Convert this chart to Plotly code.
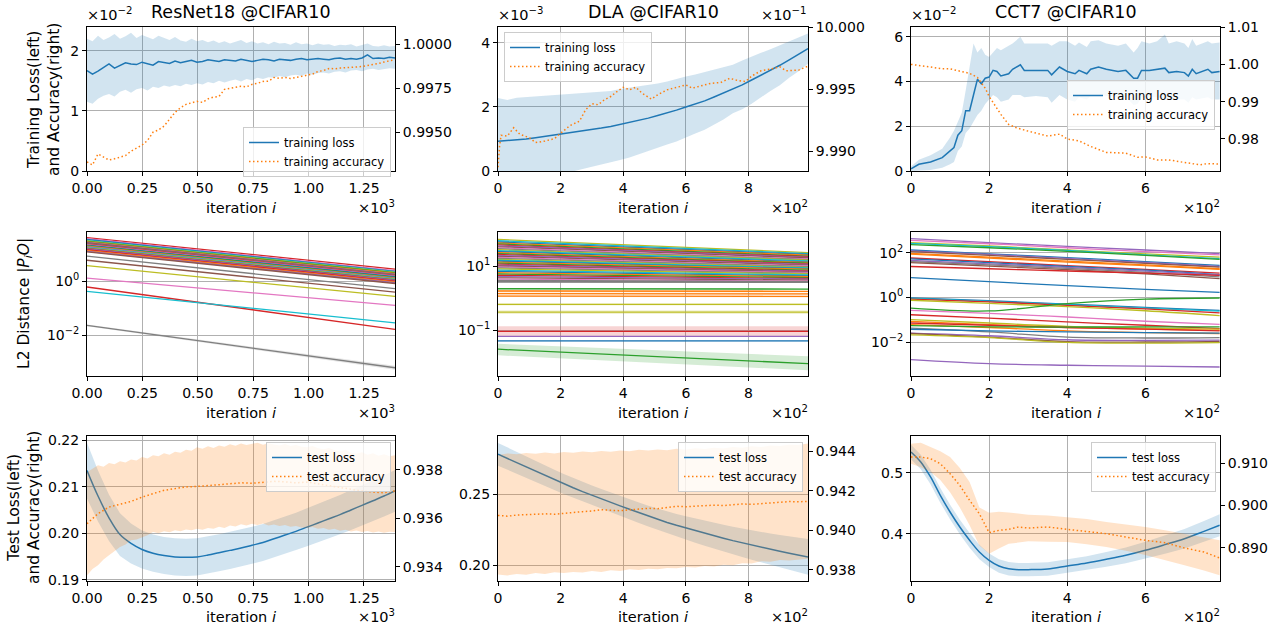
import numpy as np
import plotly.graph_objects as go

FONT = "DejaVu Sans"
C = ['#1f77b4', '#ff7f0e', '#2ca02c', '#d62728', '#9467bd',
     '#8c564b', '#e377c2', '#7f7f7f', '#bcbd22', '#17becf']
BLUE_FILL = 'rgba(31,119,180,0.2)'
ORANGE_FILL = 'rgba(255,127,14,0.22)'
DOT = '1.5px,2.5px'

# ======================= Row 1: training curves =======================
# ResNet18 (x in 1e3 iterations, loss in 1e-2)
resnet_x_max = 1.39
resnet_train_loss = [1.67, 1.61, 1.66, 1.72, 1.78, 1.71, 1.75, 1.80, 1.78, 1.77,
                     1.81, 1.79, 1.76, 1.82, 1.80, 1.79, 1.83, 1.80, 1.82, 1.84,
                     1.81, 1.82, 1.85, 1.83, 1.82, 1.85, 1.84, 1.83, 1.86, 1.84,
                     1.82, 1.84, 1.86, 1.85, 1.83, 1.86, 1.85, 1.84, 1.86, 1.87,
                     1.85, 1.86, 1.87, 1.86, 1.85, 1.87, 1.88, 1.86, 1.87, 1.86,
                     1.88, 1.93, 1.87, 1.88, 1.87, 1.89, 1.88]
resnet_train_loss_hi = [2.20, 2.16, 2.25, 2.18, 2.22, 2.28, 2.20, 2.24, 2.30, 2.21,
                        2.26, 2.22, 2.19, 2.25, 2.21, 2.18, 2.23, 2.17, 2.15, 2.20,
                        2.16, 2.18, 2.14, 2.17, 2.13, 2.16, 2.12, 2.15, 2.18, 2.13,
                        2.16, 2.12, 2.14, 2.11, 2.15, 2.12, 2.13, 2.10, 2.14, 2.11,
                        2.12, 2.09, 2.12, 2.10, 2.11, 2.08, 2.10, 2.09, 2.11, 2.07,
                        2.09, 2.12, 2.08, 2.07, 2.09, 2.07, 2.08]
resnet_train_loss_lo = [1.15, 1.12, 1.20, 1.25, 1.28, 1.24, 1.32, 1.35, 1.30, 1.36,
                        1.38, 1.34, 1.40, 1.38, 1.42, 1.40, 1.43, 1.41, 1.45, 1.43,
                        1.46, 1.44, 1.48, 1.46, 1.50, 1.47, 1.50, 1.52, 1.49, 1.53,
                        1.51, 1.55, 1.53, 1.56, 1.55, 1.58, 1.56, 1.59, 1.60, 1.58,
                        1.62, 1.60, 1.63, 1.64, 1.62, 1.65, 1.66, 1.64, 1.67, 1.68,
                        1.66, 1.69, 1.70, 1.68, 1.70, 1.71, 1.70]
resnet_train_acc = [0.99334, 0.99317, 0.99379, 0.99360, 0.99345, 0.99352, 0.99362, 0.99370, 0.99395, 0.99410,
                    0.99429, 0.99455, 0.99502, 0.99515, 0.99536, 0.99575, 0.99614, 0.99640, 0.99659, 0.99668,
                    0.99676, 0.99670, 0.99690, 0.99700, 0.99704, 0.99744, 0.99750, 0.99755, 0.99761, 0.99758,
                    0.99772, 0.99778, 0.99789, 0.99790, 0.99811, 0.99806, 0.99811, 0.99805, 0.99812, 0.99815,
                    0.99822, 0.99830, 0.99845, 0.99850, 0.99862, 0.99860, 0.99864, 0.99865, 0.99867, 0.99870,
                    0.99873, 0.99878, 0.99884, 0.99890, 0.99898, 0.99905, 0.99912]

# DLA (x in 1e2 iterations, loss in 1e-3, accuracy in 1e-1)
dla_x_max = 9.9
dla_train_loss = [0.93, 0.95, 0.97, 1.00, 1.04, 1.08, 1.12, 1.16, 1.20, 1.24,
                  1.29, 1.34, 1.39, 1.45, 1.51, 1.58, 1.65, 1.73, 1.81, 1.90,
                  2.00, 2.09, 2.19, 2.31, 2.43, 2.56, 2.69, 2.84, 2.99, 3.15,
                  3.30, 3.47, 3.64, 3.82]
dla_train_loss_hi = [2.28, 2.22, 2.29, 2.31, 2.32, 2.34, 2.36, 2.40, 2.41, 2.43,
                     2.45, 2.48, 2.50, 2.56, 2.60, 2.64, 2.69, 2.73, 2.79, 2.88,
                     2.95, 3.01, 3.09, 3.16, 3.25, 3.32, 3.45, 3.58, 3.69, 3.80,
                     3.92, 4.03, 4.17, 4.29]
dla_train_loss_lo = [-0.42, -0.32, -0.35, -0.31, -0.24, -0.18, -0.12, -0.08, -0.01, 0.05,
                     0.13, 0.20, 0.28, 0.34, 0.42, 0.52, 0.61, 0.73, 0.83, 0.92,
                     1.05, 1.17, 1.29, 1.46, 1.61, 1.80, 1.93, 2.10, 2.29, 2.50,
                     2.68, 2.91, 3.11, 3.35]
dla_acc_x = [0, 0.05, 0.1, 0.3, 0.5, 0.7, 1.0, 1.2, 1.5, 1.8, 2.0, 2.3, 2.6, 2.8, 3.0, 3.2, 3.4,
             3.6, 3.8, 4.0, 4.2, 4.4, 4.6, 4.9, 5.1, 5.4, 5.8, 6.0, 6.2, 6.5, 6.8, 7.1, 7.4,
             7.6, 7.9, 8.1, 8.4, 8.8, 9.0, 9.2, 9.6, 9.9]
dla_train_acc = [9.98870, 9.99043, 9.99128, 9.99122, 9.99189, 9.99136, 9.99109, 9.99069, 9.99082,
                 9.99101, 9.99144, 9.99207, 9.99242, 9.99335, 9.99383, 9.99375, 9.99415, 9.99441,
                 9.99481, 9.99516, 9.99495, 9.99516, 9.99468, 9.99420, 9.99455, 9.99495, 9.99521,
                 9.99535, 9.99508, 9.99527, 9.99548, 9.99553, 9.99588, 9.99574, 9.99561, 9.99606,
                 9.99649, 9.99668, 9.99681, 9.99649, 9.99654, 9.99686]

# CCT7 (x in 1e2 iterations, loss in 1e-2)
cct_x_max = 7.91
cct_loss_x = [0, 0.2, 0.5, 0.8, 1.0, 1.1, 1.2, 1.3, 1.4, 1.5, 1.6, 1.7, 1.8, 1.9, 2.0, 2.1, 2.2,
              2.3, 2.5, 2.6, 2.8, 2.9, 3.2, 3.5, 3.6, 3.8, 4.0, 4.2, 4.3, 4.5, 4.6, 4.8, 5.0,
              5.3, 5.5, 5.7, 5.8, 5.9, 6.1, 6.3, 6.5, 6.6, 6.8, 7.0, 7.1, 7.2, 7.3, 7.6, 7.7, 7.9]
cct_train_loss = [0.1, 0.3, 0.4, 0.6, 0.9, 1.05, 1.6, 1.8, 2.7, 2.7, 3.4, 4.1, 3.9, 4.15, 4.2, 4.5,
                  4.45, 4.25, 4.35, 4.55, 4.75, 4.5, 4.5, 4.5, 4.3, 4.65, 4.45, 4.35, 4.5, 4.35,
                  4.55, 4.65, 4.55, 4.45, 4.5, 4.15, 4.15, 4.5, 4.5, 4.55, 4.6, 4.4, 4.45, 4.4,
                  4.25, 4.55, 4.35, 4.55, 4.4, 4.45]
cct_train_loss_hi = [0.2, 0.5, 0.7, 1.0, 1.5, 1.8, 2.2, 2.6, 3.6, 4.6, 5.7, 5.3, 5.5, 5.2, 5.1, 5.3,
                     5.5, 5.4, 5.6, 5.7, 6.0, 5.7, 5.7, 5.7, 5.6, 5.8, 5.8, 5.6, 5.75, 5.55, 5.8,
                     5.85, 5.7, 5.6, 5.7, 5.3, 5.5, 5.8, 5.7, 5.8, 6.1, 5.7, 5.8, 5.7, 5.5, 5.9,
                     5.6, 5.8, 5.7, 5.75]
cct_train_loss_lo = [0.0, 0.0, 0.05, 0.15, 0.3, 0.4, 0.9, 1.1, 1.7, 1.9, 2.2, 2.5, 2.7, 3.0, 3.2,
                     3.4, 3.3, 3.1, 3.2, 3.4, 3.4, 3.3, 3.35, 3.3, 3.05, 3.4, 3.2, 3.1, 3.3, 3.2,
                     3.35, 3.4, 3.35, 3.3, 3.3, 2.95, 3.0, 3.3, 3.3, 3.3, 3.2, 3.2, 3.2, 3.2, 3.05,
                     3.3, 3.2, 3.3, 3.2, 3.2]
cct_acc_x = [0, 0.3, 0.5, 0.8, 1.0, 1.2, 1.4, 1.5, 1.7, 1.9, 2.0, 2.1, 2.3, 2.5, 2.7, 3.0, 3.3,
             3.5, 3.8, 4.0, 4.3, 4.6, 5.0, 5.2, 5.5, 5.8, 6.0, 6.3, 6.6, 7.0, 7.4, 7.6, 7.9]
cct_train_acc = [1.0000, 0.9997, 0.9993, 0.9988, 0.9988, 0.9983, 0.9979, 0.9976, 0.9965, 0.9936,
                 0.9914, 0.9898, 0.9866, 0.9839, 0.9830, 0.9821, 0.9812, 0.9808, 0.9813, 0.9800,
                 0.9795, 0.9780, 0.9764, 0.9764, 0.9762, 0.9751, 0.9752, 0.9744, 0.9744, 0.9737,
                 0.9731, 0.9734, 0.9733]

# ======================= Row 2: L2 distances (log10 values) =======================
resnet_l2_start = [1.62, 1.58, 1.55, 1.52, 1.50, 1.48, 1.46, 1.44, 1.42, 1.40, 1.38, 1.36,
                   1.34, 1.32, 1.30, 1.28, 1.26, 1.24, 1.22, 1.20, 1.17, 1.14, 1.11, 1.09,
                   0.93, 0.78, 0.58, 0.12, -0.21, -0.37, -1.63]
resnet_l2_end = [0.45, 0.40, 0.37, 0.35, 0.33, 0.31, 0.29, 0.27, 0.25, 0.23, 0.21, 0.19,
                 0.17, 0.15, 0.13, 0.11, 0.09, 0.07, 0.05, 0.03, 0.01, -0.02, -0.05, -0.08,
                 -0.27, -0.40, -0.56, -0.89, -1.78, -1.54, -3.20]
resnet_l2_color = [3, 6, 0, 9, 8, 2, 1, 4, 5, 7, 3, 6, 0, 2, 1, 4, 9, 8, 5, 4,
                   3, 1, 4, 5, 7, 5, 8, 6, 3, 9, 7]

dla_l2_start = [1.84, 1.80, 1.76, 1.73, 1.70, 1.67, 1.64, 1.61, 1.58, 1.55,
                1.52, 1.49, 1.46, 1.43, 1.40, 1.37, 1.34, 1.31, 1.28, 1.25,
                1.22, 1.19, 1.16, 1.13, 1.10, 1.07, 1.04, 1.01, 0.98, 0.95,
                0.92, 0.88, 0.84, 0.80, 0.76, 0.72, 0.68, 0.64, 0.60, 0.56,
                0.53, 0.51, 0.30, 0.23, 0.15, 0.07, -0.19, -0.43, -1.03, -1.19, -1.33, -1.59]
dla_l2_end = [1.43, 1.40, 1.37, 1.35, 1.32, 1.30, 1.28, 1.26, 1.23, 1.21,
              1.19, 1.17, 1.14, 1.12, 1.10, 1.08, 1.06, 1.04, 1.01, 0.99,
              0.97, 0.95, 0.93, 0.91, 0.88, 0.86, 0.84, 0.82, 0.80, 0.78,
              0.76, 0.73, 0.70, 0.68, 0.65, 0.62, 0.60, 0.57, 0.54, 0.52,
              0.52, 0.50, 0.29, 0.22, 0.14, 0.06, -0.19, -0.43, -1.03, -1.19, -1.33, -2.04]
dla_l2_color = [8, 9, 0, 1, 2, 3, 4, 5, 6, 7, 8, 9, 0, 1, 2, 3, 4, 5, 6, 7,
                8, 9, 0, 1, 2, 3, 4, 5, 6, 7, 8, 9, 0, 1, 2, 3, 4, 5, 6, 7,
                7, 7, 2, 1, 1, 1, 8, 8, 3, 4, 0, 2]
# shaded spread (log10) for a few lines: index, lo_start, hi_start, lo_end, hi_end
dla_l2_bands = [(43, 0.20, 0.26, 0.19, 0.25), (44, 0.12, 0.18, 0.11, 0.17),
                (45, 0.04, 0.10, 0.03, 0.09), (46, -0.22, -0.16, -0.22, -0.16),
                (47, -0.49, -0.37, -0.49, -0.37), (48, -1.19, -0.87, -1.19, -0.87),
                (50, -1.36, -1.30, -1.36, -1.30), (51, -1.78, -1.42, -2.25, -1.81)]
resnet_l2_bands = [(30, -1.66, -1.60, -3.27, -3.13)]

cct_l2_x = [0, 2, 4, 6, 7.9]
cct_l2_curves = [
    [2.63, 2.45, 2.28, 2.12, 1.96], [2.55, 2.40, 2.22, 2.05, 1.90], [2.45, 2.30, 2.12, 1.95, 1.80],
    [2.42, 2.27, 2.10, 1.90, 1.73], [2.36, 2.22, 2.06, 1.88, 1.70],
    [2.12, 1.95, 1.78, 1.60, 1.43], [2.08, 1.92, 1.74, 1.56, 1.38], [2.05, 1.88, 1.70, 1.52, 1.35],
    [1.97, 1.80, 1.62, 1.45, 1.28], [1.93, 1.76, 1.58, 1.42, 1.25], [1.76, 1.60, 1.42, 1.25, 1.08],
    [1.72, 1.55, 1.38, 1.22, 1.02], [1.65, 1.50, 1.34, 1.17, 1.00], [1.60, 1.45, 1.30, 1.12, 0.92],
    [1.55, 1.40, 1.24, 1.05, 0.84], [1.38, 1.28, 1.18, 1.08, 0.98],
    [0.88, 0.70, 0.52, 0.36, 0.22],
    [-0.02, -0.15, -0.30, -0.45, -0.58], [-0.05, -0.18, -0.33, -0.48, -0.62],
    [-0.08, -0.20, -0.36, -0.52, -0.70], [-0.13, -0.27, -0.42, -0.60, -0.82],
    [-0.48, -0.61, -0.28, -0.08, -0.03], [-0.58, -0.72, -0.88, -1.07, -1.21],
    [-0.78, -0.93, -1.10, -1.25, -1.40],
    [-1.00, -1.15, -1.30, -1.38, -1.42], [-1.08, -1.22, -1.35, -1.42, -1.48],
    [-1.15, -1.25, -1.35, -1.42, -1.50], [-1.22, -1.35, -1.50, -1.58, -1.62],
    [-1.27, -1.32, -1.33, -1.32, -1.32], [-1.38, -1.55, -1.78, -1.82, -1.80],
    [-1.43, -1.50, -1.55, -1.58, -1.60], [-1.60, -1.72, -1.90, -1.93, -1.92],
    [-1.62, -1.78, -1.98, -2.00, -1.97], [-1.68, -1.80, -2.02, -2.05, -2.03],
    [-2.79, -2.97, -3.04, -3.08, -3.12],
]
cct_l2_color = [4, 6, 8, 9, 2, 0, 4, 5, 1, 1, 3, 0, 4, 7, 5, 3, 0,
                0, 9, 3, 8, 2, 6, 3, 8, 1, 3, 1, 2, 7, 0, 4, 5, 8, 4]

# ======================= Row 3: test curves =======================
resnet_test_loss = [0.2135, 0.2080, 0.2033, 0.1997, 0.1978, 0.1965, 0.1957, 0.1952, 0.1949, 0.1948,
                    0.1949, 0.1953, 0.1958, 0.1963, 0.1968, 0.1974, 0.1980, 0.1988, 0.1996, 0.2004,
                    0.2013, 0.2022, 0.2031, 0.2040, 0.2050, 0.2060, 0.2070, 0.2080, 0.2091]
resnet_test_loss_std = [0.0060, 0.0055, 0.0050, 0.0046, 0.0043, 0.0041, 0.0040, 0.0040, 0.0040, 0.0040,
                        0.0040, 0.0040, 0.0040, 0.0040, 0.0040, 0.0040, 0.0040, 0.0040, 0.0040, 0.0040,
                        0.0041, 0.0041, 0.0042, 0.0042, 0.0043, 0.0043, 0.0044, 0.0044, 0.0045]
resnet_test_acc = [0.93577, 0.93619, 0.93646, 0.93658, 0.93669, 0.93687, 0.93701, 0.93715, 0.93722, 0.93729,
                   0.93731, 0.93733, 0.93738, 0.93742, 0.93746, 0.93744, 0.93748, 0.93752, 0.93750, 0.93746,
                   0.93749, 0.93742, 0.93735, 0.93728, 0.93718, 0.93712, 0.93708, 0.93705, 0.93712]
resnet_test_acc_hi = [0.93790, 0.93805, 0.93818, 0.93812, 0.93828, 0.93822, 0.93835, 0.93830, 0.93842, 0.93838,
                      0.93852, 0.93846, 0.93860, 0.93855, 0.93868, 0.93862, 0.93874, 0.93870, 0.93882, 0.93878,
                      0.93893, 0.93886, 0.93897, 0.93890, 0.93900, 0.93895, 0.93905, 0.93899, 0.93908, 0.93902,
                      0.93907, 0.93911, 0.93903, 0.93909, 0.93904, 0.93900, 0.93906, 0.93898, 0.93902, 0.93895,
                      0.93893, 0.93898, 0.93888, 0.93884, 0.93890, 0.93880, 0.93876, 0.93882, 0.93870, 0.93866,
                      0.93872, 0.93862, 0.93868, 0.93858, 0.93864, 0.93856, 0.93860]
resnet_test_acc_lo = [0.93364, 0.93390, 0.93406, 0.93430, 0.93447, 0.93462, 0.93481, 0.93492, 0.93509, 0.93512,
                      0.93522, 0.93530, 0.93543, 0.93538, 0.93546, 0.93542, 0.93550, 0.93546, 0.93553, 0.93550,
                      0.93557, 0.93552, 0.93560, 0.93556, 0.93565, 0.93560, 0.93570, 0.93566, 0.93575, 0.93570,
                      0.93577, 0.93572, 0.93578, 0.93570, 0.93574, 0.93568, 0.93572, 0.93565, 0.93568, 0.93562,
                      0.93560, 0.93564, 0.93556, 0.93560, 0.93552, 0.93556, 0.93548, 0.93552, 0.93545, 0.93549,
                      0.93543, 0.93547, 0.93541, 0.93545, 0.93540, 0.93544, 0.93543]

dla_test_loss = [0.2782, 0.2752, 0.2721, 0.2691, 0.2661, 0.2631, 0.2602, 0.2573, 0.2546, 0.2519,
                 0.2493, 0.2468, 0.2443, 0.2419, 0.2395, 0.2371, 0.2346, 0.2323, 0.2302, 0.2282,
                 0.2263, 0.2244, 0.2226, 0.2208, 0.2191, 0.2174, 0.2158, 0.2143, 0.2128, 0.2114,
                 0.2099, 0.2085, 0.2072, 0.2059]
dla_test_loss_std = [0.0080, 0.0078, 0.0076, 0.0075, 0.0074, 0.0073, 0.0072, 0.0071, 0.0070, 0.0070,
                     0.0070, 0.0070, 0.0070, 0.0070, 0.0071, 0.0072, 0.0073, 0.0075, 0.0077, 0.0079,
                     0.0082, 0.0085, 0.0088, 0.0091, 0.0094, 0.0097, 0.0100, 0.0103, 0.0106, 0.0110,
                     0.0114, 0.0118, 0.0122, 0.0126]
dla_test_acc = [0.94076, 0.94072, 0.94078, 0.94080, 0.94082, 0.94084, 0.94082, 0.94087, 0.94092, 0.94095,
                0.94098, 0.94105, 0.94102, 0.94100, 0.94104, 0.94108, 0.94112, 0.94110, 0.94116, 0.94122,
                0.94120, 0.94122, 0.94126, 0.94128, 0.94126, 0.94130, 0.94134, 0.94132, 0.94136, 0.94140,
                0.94144, 0.94146, 0.94145, 0.94147]
dla_test_acc_hi = [0.94382, 0.94390, 0.94386, 0.94392, 0.94388, 0.94395, 0.94390, 0.94397, 0.94393, 0.94400,
                   0.94396, 0.94402, 0.94398, 0.94405, 0.94401, 0.94408, 0.94404, 0.94410, 0.94406, 0.94413,
                   0.94409, 0.94416, 0.94412, 0.94419, 0.94415, 0.94422, 0.94418, 0.94426, 0.94422, 0.94430,
                   0.94427, 0.94434, 0.94432, 0.94440]
dla_test_acc_lo = [0.93777, 0.93772, 0.93780, 0.93776, 0.93784, 0.93780, 0.93788, 0.93785, 0.93790, 0.93787,
                   0.93794, 0.93790, 0.93798, 0.93795, 0.93804, 0.93800, 0.93806, 0.93803, 0.93810, 0.93808,
                   0.93815, 0.93812, 0.93820, 0.93818, 0.93826, 0.93824, 0.93834, 0.93832, 0.93844, 0.93842,
                   0.93850, 0.93848, 0.93854, 0.93857]

cct_test_x = [0, 0.25, 0.5, 0.75, 1.0, 1.25, 1.5, 1.75, 2.0, 2.25, 2.5, 2.75, 3.0, 3.5, 4.0,
              4.5, 5.0, 5.5, 6.0, 6.5, 7.0, 7.5, 7.9]
cct_test_loss = [0.5339, 0.5175, 0.4929, 0.4628, 0.4355, 0.4109, 0.3891, 0.3700, 0.3563, 0.3470,
                 0.3426, 0.3410, 0.3410, 0.3421, 0.3470, 0.3519, 0.3579, 0.3645, 0.3727, 0.3820,
                 0.3918, 0.4038, 0.4137]
cct_test_loss_std = [0.012, 0.012, 0.012, 0.012, 0.012, 0.012, 0.012, 0.012, 0.011, 0.011, 0.011,
                     0.011, 0.011, 0.011, 0.011, 0.011, 0.012, 0.013, 0.014, 0.015, 0.016, 0.017, 0.018]
cct_test_acc = [0.91142, 0.91142, 0.91102, 0.90984, 0.90748, 0.90472, 0.90118, 0.89803, 0.89354,
                0.89410, 0.89433, 0.89488, 0.89465, 0.89488, 0.89433, 0.89386, 0.89331, 0.89252,
                0.89173, 0.89118, 0.88992, 0.88898, 0.88756]
cct_test_acc_hi = [0.91457, 0.91480, 0.91380, 0.91280, 0.91142, 0.90880, 0.90551, 0.89950, 0.89827,
                   0.89850, 0.89830, 0.89810, 0.89780, 0.89760, 0.89724, 0.89680, 0.89606, 0.89550,
                   0.89488, 0.89410, 0.89331, 0.89250, 0.89173]
cct_test_acc_lo = [0.90984, 0.90900, 0.90787, 0.90600, 0.90310, 0.89950, 0.89528, 0.89050, 0.88858,
                   0.88980, 0.89094, 0.89120, 0.89150, 0.89140, 0.89134, 0.89080, 0.89016, 0.88930,
                   0.88830, 0.88710, 0.88583, 0.88460, 0.88346]

# ======================= figure =======================
W, H = 1284, 629
col_px = [(87, 395), (498, 808), (911, 1220)]
row_px = [(27, 171), (232, 376), (436, 581)]

fig = go.Figure()


def ax_names(r, c):
    k = r * 3 + c + 1
    return 'x%d' % k, 'y%d' % k


def right_name(r, c):
    return 'y%d' % (10 + c if r == 0 else 13 + c)


def line(x, y, xa, ya, color, dash=None, width=1.5, name=None, legend=None, shape='linear'):
    fig.add_trace(go.Scatter(
        x=list(x), y=list(y), xaxis=xa, yaxis=ya, mode='lines', name=name,
        line=dict(color=color, width=width, dash=dash, shape=shape),
        showlegend=name is not None, legend=legend, hoverinfo='skip'))


def band(x, lo, hi, xa, ya, fill):
    x = list(x)
    fig.add_trace(go.Scatter(
        x=x + x[::-1], y=list(hi) + list(lo)[::-1], xaxis=xa, yaxis=ya,
        mode='lines', fill='toself', fillcolor=fill, line=dict(width=0),
        showlegend=False, hoverinfo='skip'))


# ---- Row 1
xa, ya = ax_names(0, 0)
xr = np.linspace(0, resnet_x_max, len(resnet_train_loss))
band(xr, resnet_train_loss_lo, resnet_train_loss_hi, xa, ya, BLUE_FILL)
line(xr, resnet_train_loss, xa, ya, C[0], name='training loss', legend='legend')
line(xr, resnet_train_acc, xa, right_name(0, 0), C[1], dash=DOT, name='training accuracy', legend='legend')

xa, ya = ax_names(0, 1)
xd = np.linspace(0, dla_x_max, len(dla_train_loss))
band(xd, dla_train_loss_lo, dla_train_loss_hi, xa, ya, BLUE_FILL)
line(xd, dla_train_loss, xa, ya, C[0], name='training loss', legend='legend2')
line(dla_acc_x, dla_train_acc, xa, right_name(0, 1), C[1], dash=DOT, name='training accuracy', legend='legend2')

xa, ya = ax_names(0, 2)
band(cct_loss_x, cct_train_loss_lo, cct_train_loss_hi, xa, ya, BLUE_FILL)
line(cct_loss_x, cct_train_loss, xa, ya, C[0], name='training loss', legend='legend3')
line(cct_acc_x, cct_train_acc, xa, right_name(0, 2), C[1], dash=DOT, name='training accuracy', legend='legend3')


def hex_rgba(h, a):
    h = h.lstrip('#')
    return 'rgba(%d,%d,%d,%.2f)' % (int(h[0:2], 16), int(h[2:4], 16), int(h[4:6], 16), a)


# ---- Row 2
def l2_panel(c, xmax, starts, ends, colors, bands):
    xa, ya = ax_names(1, c)
    bmap = {b[0]: b[1:] for b in bands}
    for i, (s, e) in enumerate(zip(starts, ends)):
        col = C[colors[i]]
        if i in bmap:
            lo0, hi0, lo1, hi1 = bmap[i]
            band([0, xmax], [10 ** lo0, 10 ** lo1], [10 ** hi0, 10 ** hi1], xa, ya, hex_rgba(col, 0.2))
        line([0, xmax], [10 ** s, 10 ** e], xa, ya, col, width=1.3)


l2_panel(0, resnet_x_max, resnet_l2_start, resnet_l2_end, resnet_l2_color, resnet_l2_bands)
l2_panel(1, dla_x_max, dla_l2_start, dla_l2_end, dla_l2_color, dla_l2_bands)
xa, ya = ax_names(1, 2)
for i, curve in enumerate(cct_l2_curves):
    line(cct_l2_x, [10 ** v for v in curve], xa, ya, C[cct_l2_color[i]], width=1.3, shape='spline')

# ---- Row 3
xa, ya = ax_names(2, 0)
xt = np.linspace(0, resnet_x_max, len(resnet_test_loss))
xt2 = np.linspace(0, resnet_x_max, len(resnet_test_acc_hi))
m, s = np.array(resnet_test_loss), np.array(resnet_test_loss_std)
band(xt, m - s, m + s, xa, ya, BLUE_FILL)
line(xt, m, xa, ya, C[0], name='test loss', legend='legend4', shape='spline')
band(xt2, resnet_test_acc_lo, resnet_test_acc_hi, xa, right_name(2, 0), ORANGE_FILL)
line(xt, resnet_test_acc, xa, right_name(2, 0), C[1], dash=DOT, name='test accuracy', legend='legend4')

xa, ya = ax_names(2, 1)
xt = np.linspace(0, dla_x_max, len(dla_test_loss))
m, s = np.array(dla_test_loss), np.array(dla_test_loss_std)
band(xt, m - s, m + s, xa, ya, BLUE_FILL)
line(xt, m, xa, ya, C[0], name='test loss', legend='legend5')
band(xt, dla_test_acc_lo, dla_test_acc_hi, xa, right_name(2, 1), ORANGE_FILL)
line(xt, dla_test_acc, xa, right_name(2, 1), C[1], dash=DOT, name='test accuracy', legend='legend5')

xa, ya = ax_names(2, 2)
m, s = np.array(cct_test_loss), np.array(cct_test_loss_std)
band(cct_test_x, m - s, m + s, xa, ya, BLUE_FILL)
line(cct_test_x, m, xa, ya, C[0], name='test loss', legend='legend6', shape='spline')
band(cct_test_x, cct_test_acc_lo, cct_test_acc_hi, xa, right_name(2, 2), ORANGE_FILL)
line(cct_test_x, cct_test_acc, xa, right_name(2, 2), C[1], dash=DOT, name='test accuracy', legend='legend6')

# ---- axes
TICKFONT = dict(family=FONT, size=14, color='black')
BASE = dict(showline=True, linecolor='black', linewidth=1, mirror=True, ticks='outside',
            ticklen=4, tickwidth=1, tickcolor='black', showgrid=True, gridcolor='#b0b0b0',
            gridwidth=0.8, zeroline=False, tickfont=TICKFONT, automargin=False)

x_cfg = [
    dict(range=[0, resnet_x_max], tickvals=[0, 0.25, 0.5, 0.75, 1.0, 1.25],
         ticktext=['0.00', '0.25', '0.50', '0.75', '1.00', '1.25']),
    dict(range=[0, dla_x_max], tickvals=[0, 2, 4, 6, 8], ticktext=['0', '2', '4', '6', '8']),
    dict(range=[0, cct_x_max], tickvals=[0, 2, 4, 6], ticktext=['0', '2', '4', '6']),
]
y_left = {
    (0, 0): dict(range=[0, 2.395], tickvals=[0, 1, 2], ticktext=['0', '1', '2']),
    (0, 1): dict(range=[0, 4.495], tickvals=[0, 2, 4], ticktext=['0', '2', '4']),
    (0, 2): dict(range=[0, 6.44], tickvals=[0, 2, 4, 6], ticktext=['0', '2', '4', '6']),
    (1, 0): dict(type='log', range=[-3.506, 1.827], tickvals=[1, 0.01],
                 ticktext=['10<sup>0</sup>', '10<sup>−2</sup>']),
    (1, 1): dict(type='log', range=[-2.427, 2.073], tickvals=[10, 0.1],
                 ticktext=['10<sup>1</sup>', '10<sup>−1</sup>']),
    (1, 2): dict(type='log', range=[-3.522, 2.925], tickvals=[100, 1, 0.01],
                 ticktext=['10<sup>2</sup>', '10<sup>0</sup>', '10<sup>−2</sup>']),
    (2, 0): dict(range=[0.18971, 0.22093], tickvals=[0.19, 0.20, 0.21, 0.22],
                 ticktext=['0.19', '0.20', '0.21', '0.22']),
    (2, 1): dict(range=[0.18897, 0.29108], tickvals=[0.20, 0.25], ticktext=['0.20', '0.25']),
    (2, 2): dict(range=[0.3224, 0.5601], tickvals=[0.4, 0.5], ticktext=['0.4', '0.5']),
}
y_right = {
    (0, 0): dict(range=[0.99283, 1.00096], tickvals=[0.995, 0.9975, 1.0],
                 ticktext=['0.9950', '0.9975', '1.0000']),
    (0, 1): dict(range=[9.9884, 10.00002], tickvals=[9.990, 9.995, 10.0],
                 ticktext=['9.990', '9.995', '10.000']),
    (0, 2): dict(range=[0.97142, 1.01002], tickvals=[0.98, 0.99, 1.00, 1.01],
                 ticktext=['0.98', '0.99', '1.00', '1.01']),
    (2, 0): dict(range=[0.93341, 0.93939], tickvals=[0.934, 0.936, 0.938],
                 ticktext=['0.934', '0.936', '0.938']),
    (2, 1): dict(range=[0.93744, 0.94478], tickvals=[0.938, 0.940, 0.942, 0.944],
                 ticktext=['0.938', '0.940', '0.942', '0.944']),
    (2, 2): dict(range=[0.88213, 0.91638], tickvals=[0.89, 0.90, 0.91],
                 ticktext=['0.890', '0.900', '0.910']),
}

layout = {}
for r in range(3):
    for c in range(3):
        k = r * 3 + c + 1
        xd = [col_px[c][0] / W, col_px[c][1] / W]
        yd = [1 - row_px[r][1] / H, 1 - row_px[r][0] / H]
        xkey = 'xaxis' if k == 1 else 'xaxis%d' % k
        ykey = 'yaxis' if k == 1 else 'yaxis%d' % k
        layout[xkey] = dict(BASE, domain=xd, anchor='y%d' % k, **x_cfg[c])
        layout[ykey] = dict(BASE, domain=yd, anchor='x%d' % k, **y_left[(r, c)])
        if (r, c) in y_right:
            rn = right_name(r, c)
            layout['yaxis' + rn[1:]] = dict(
                BASE, overlaying='y%d' % k, side='right', anchor='x%d' % k,
                showgrid=False, mirror=False, **y_right[(r, c)])

# ---- annotations
ann = []


def text(s, xpx, ypx, size, xanchor='center', angle=0):
    ann.append(dict(text=s, x=xpx / W, y=1 - ypx / H, xref='paper', yref='paper',
                    xanchor=xanchor, yanchor='middle', showarrow=False, textangle=angle,
                    font=dict(family=FONT, size=size, color='black')))


titles = ['ResNet18 @CIFAR10', 'DLA @CIFAR10', 'CCT7 @CIFAR10']
for c in range(3):
    cx = (col_px[c][0] + col_px[c][1]) / 2
    text(titles[c], cx, 12, 17.5)
    for r, ypx in enumerate([208, 413, 617]):
        text('iteration <i>i</i>', cx, ypx, 14.5)
        text('×10<sup>3</sup>' if c == 0 else '×10<sup>2</sup>', col_px[c][1] + 2, ypx - 1, 14.5,
             xanchor='right')

text('×10<sup>−2</sup>', col_px[0][0] - 2, 14, 14.5, xanchor='left')
text('×10<sup>−3</sup>', col_px[1][0] - 2, 14, 14.5, xanchor='left')
text('×10<sup>−1</sup>', col_px[1][1] + 1, 14, 14.5, xanchor='right')
text('×10<sup>−2</sup>', col_px[2][0] - 2, 14, 14.5, xanchor='left')

text('Training Loss(left)<br>and Accuracy(right)', 44, 99, 15.5, angle=-90)
text('L2 Distance |<i>P<sub>i</sub>O</i>|', 25, 304, 15.5, angle=-90)
text('Test Loss(left)<br>and Accuracy(right)', 24, 508, 15.5, angle=-90)

# ---- legends
LEG = dict(bgcolor='rgba(255,255,255,0.8)', bordercolor='#cccccc', borderwidth=1,
           font=dict(family=FONT, size=11.5, color='black'), itemwidth=30,
           xanchor='left', yanchor='top', tracegroupgap=0)
leg_pos = {'legend': (243, 127), 'legend2': (504, 32), 'legend3': (1067, 80),
           'legend4': (266, 442), 'legend5': (678, 442), 'legend6': (1091, 442)}
for key, (lx, ly) in leg_pos.items():
    layout[key] = dict(LEG, x=lx / W, y=1 - ly / H)

fig.update_layout(width=W, height=H, margin=dict(l=0, r=0, t=0, b=0, autoexpand=False), autosize=False,
                  plot_bgcolor='white', paper_bgcolor='white', annotations=ann,
                  font=dict(family=FONT, color='black'), **layout)

fig.write_html("out.html")
